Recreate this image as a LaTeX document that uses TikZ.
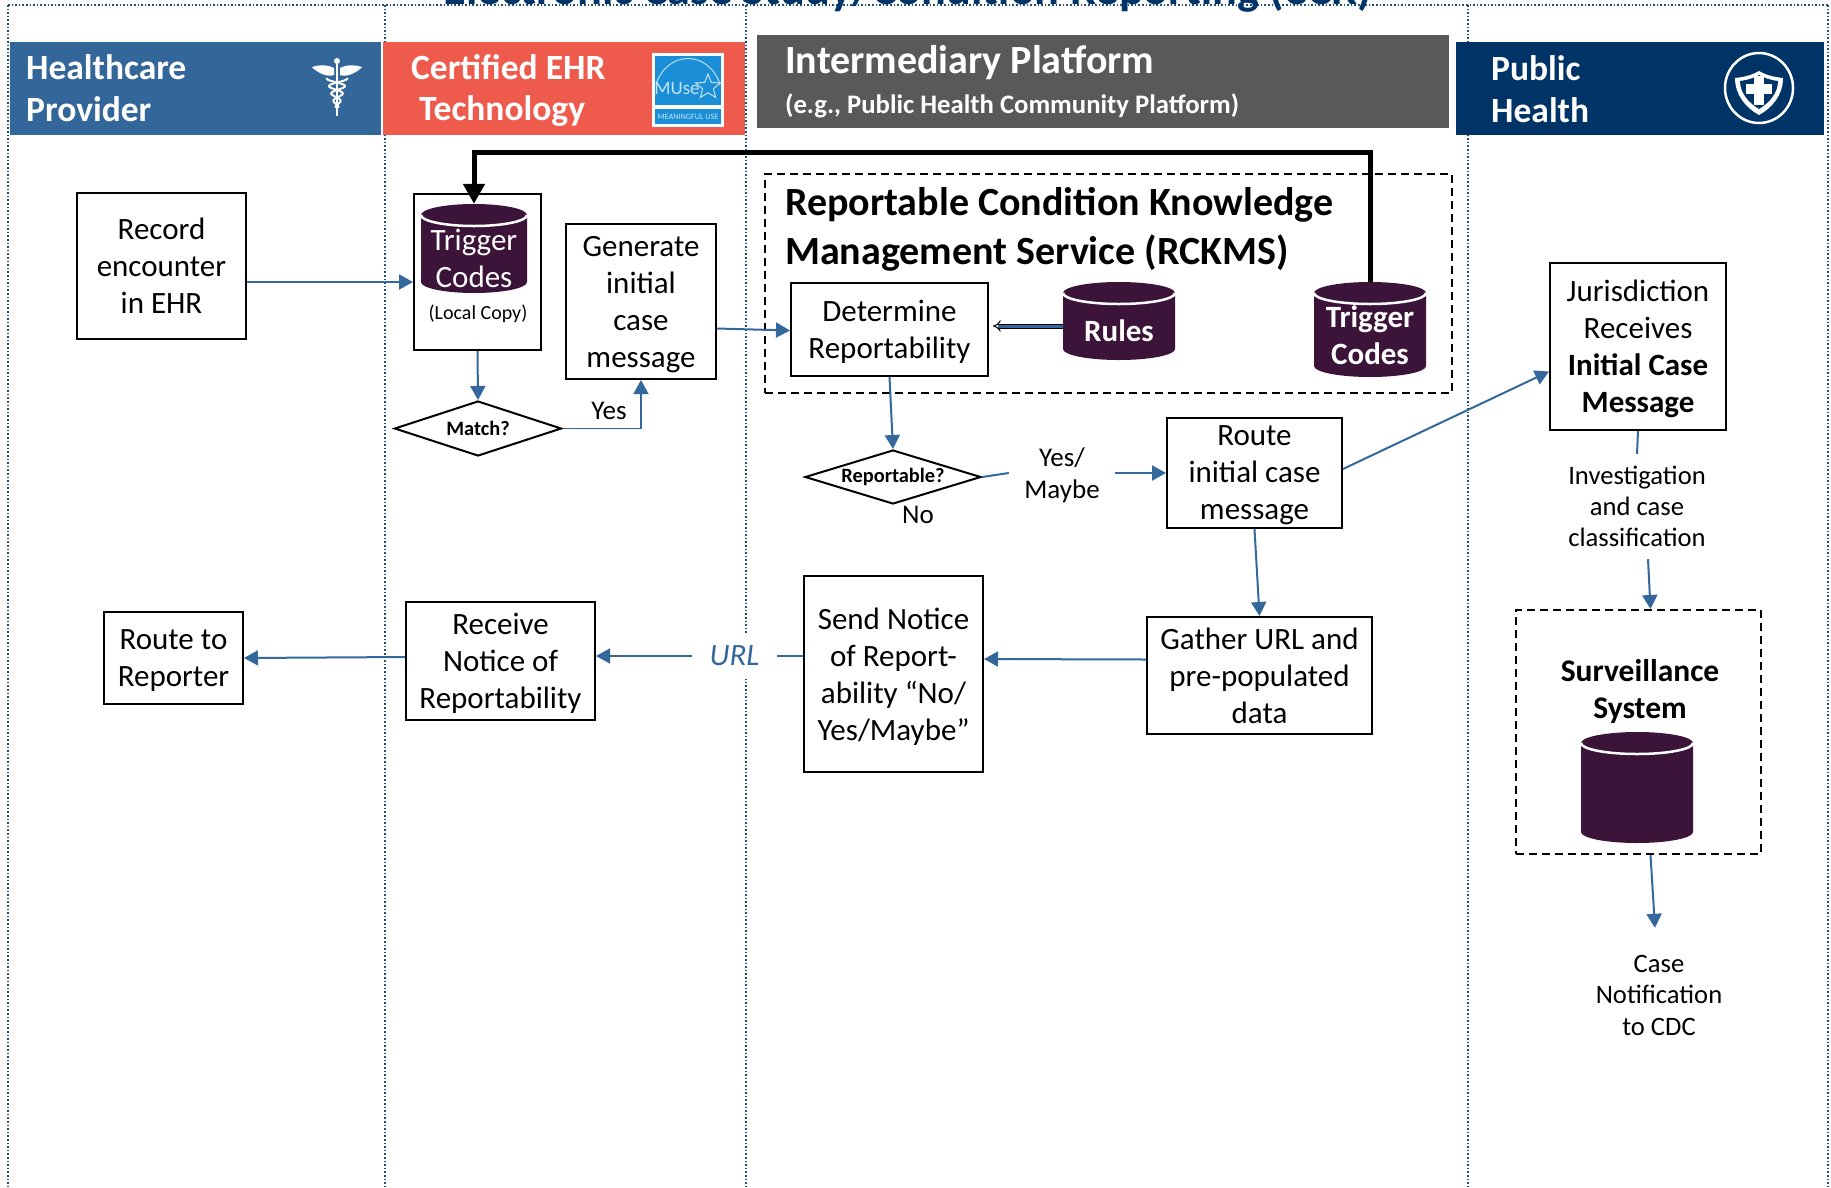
\documentclass[tikz,border=0pt]{standalone}
\usepackage{fontspec}
\setmainfont{Carlito}
\usetikzlibrary{positioning}
\usetikzlibrary{calc}
\usetikzlibrary{arrows.meta}
\usetikzlibrary{shapes.geometric}
\definecolor{linkblue}{HTML}{34679C}
\definecolor{lanenavy}{HTML}{1F4E79}
\definecolor{providerblue}{HTML}{336699}
\definecolor{ehrred}{HTML}{EE5B4D}
\definecolor{platformgrey}{HTML}{58595B}
\definecolor{healthnavy}{HTML}{003366}
\definecolor{dbpurple}{HTML}{3C1339}
\definecolor{musesky}{HTML}{1A8FD8}
\newcommand{\bodyfont}{\fontsize{31}{37}\selectfont}
\newcommand{\dbcan}[7]{
    \fill[dbpurple] ({#2-#4/2},{#3+11}) -- ({#2-#4/2},{#3+#5-11})
        arc[start angle=180,end angle=360,x radius={#4/2*1pt},y radius=11pt]
        -- ({#2+#4/2},{#3+11})
        arc[start angle=0,end angle=180,x radius={#4/2*1pt},y radius=11pt] -- cycle;
    \draw[white,line width=2.5pt] ({#2-#4/2},{#3+11})
        arc[start angle=180,end angle=360,x radius={#4/2*1pt},y radius=11pt];
    \node[minimum width=#4,minimum height=#5,inner sep=0] (#1) at (#2,{#3+#5/2}) {};
    \node[dbtext] (#1text) at (#2,{#3+#5/2+#6}) {#7};
}
\begin{document}
\begin{tikzpicture}[x=1pt,y=-1pt,
        lane/.style={draw=lanenavy,line width=1.6pt,dash pattern=on 1.6pt off 2pt},
        bandtext/.style={anchor=west,inner sep=0,text=white,font=\fontsize{35.5}{42}\selectfont\bfseries},
        stepbox/.style={draw,line width=2pt,fill=white,align=center,inner sep=0,font=\bodyfont,text depth=-2.6pt},
        dashbox/.style={draw,line width=2pt,dash pattern=on 8pt off 5pt,inner sep=0},
        decision/.style={diamond,aspect=3.2,draw,line width=2pt,fill=white,inner sep=0,font=\fontsize{20.4}{24}\selectfont\bfseries},
        dbtext/.style={align=center,inner sep=0,text=white,font=\bodyfont,text depth=2pt},
        note/.style={align=center,inner sep=0,font=\fontsize{26.6}{31}\selectfont,text depth=-2pt},
        flow/.style={draw=linkblue,line width=2pt,-{Triangle[length=14pt,width=15pt]}},
        plainflow/.style={draw=linkblue,line width=2pt},
        feed/.style={draw=black,line width=5pt,-{Triangle[length=20pt,width=21pt]}}]
    \useasboundingbox (0,0) rectangle (1831,1187);
    \foreach \lanex in {8,385,746,1468,1828}
        \draw[lane] (\lanex,5) -- (\lanex,1187);
    \draw[lane] (8,5) -- (1828,5);
    \node[anchor=base,inner sep=0,text=healthnavy,font=\fontsize{46.3}{50}\selectfont\bfseries] (pagetitle) at (908,4)
        {Electronic Case Study/Condition Reporting (eCR)};
    \fill[providerblue] (10,42) rectangle (381,135);
    \fill[ehrred] (383,42) rectangle (745,135);
    \fill[platformgrey] (757,35) rectangle (1449,128);
    \fill[healthnavy] (1456,42) rectangle (1824,135);
    \node[bandtext] (provider1) at (26,67) {Healthcare};
    \node[bandtext] (provider2) at (26,109) {Provider};
    \node[bandtext] (ehr1) at (411,67) {Certified EHR};
    \node[bandtext] (ehr2) at (419,111) {Technology};
    \node[bandtext,font=\fontsize{40}{46}\selectfont\bfseries] (platform1) at (785,63) {Intermediary Platform};
    \node[bandtext,font=\fontsize{26.7}{30}\selectfont\bfseries] (platform2) at (785,106) {(e.g., Public Health Community Platform)};
    \node[bandtext] (health1) at (1491,68) {Public};
    \node[bandtext] (health2) at (1491,110) {Health};
    % caduceus
    \draw[white,line width=2.5pt] (337,64) -- (337,116);
    \fill[white] (337,61) circle (3pt);
    \fill[white] (334,68) .. controls (326,64) and (318,65) .. (312,67) .. controls (316,72) and (328,78) .. (334,75) -- cycle;
    \fill[white] (340,68) .. controls (348,64) and (356,65) .. (362,67) .. controls (358,72) and (346,78) .. (340,75) -- cycle;
    \draw[white,line width=2pt] plot[domain=78:108,samples=40] ({337+9*(108-\x)/30*sin(\x*24)+1.5*sin(\x*24)},\x);
    \draw[white,line width=2pt] plot[domain=78:108,samples=40] ({337-9*(108-\x)/30*sin(\x*24)-1.5*sin(\x*24)},\x);
    % muse logo
    \fill[white] (652,53) rectangle (724,127);
    \fill[musesky] (655,56) rectangle (721,105);
    \fill[musesky] (655,109) rectangle (721,124);
    \draw[white!70!musesky,line width=1pt] (656,84) .. controls (668,50) and (708,50) .. (720,84);
    \node[inner sep=0,text=white!75!musesky,font=\fontsize{19}{20}\selectfont] (musetext) at (677,88) {MUse};
    \node[star,star points=5,star point ratio=2.3,draw=white!75!musesky,line width=1pt,minimum size=26pt,inner sep=0] (musestar) at (708,87) {};
    \node[inner sep=0,text=white!75!musesky,font=\fontsize{8.2}{9}\selectfont] (musemu) at (688,117) {MEANINGFUL USE};
    % public health seal
    \draw[white,line width=2.5pt] (1759,88) ellipse (34pt and 35pt);
    \fill[white] (1735,78) .. controls (1745,77) and (1752,75) .. (1759,71) .. controls (1766,75) and (1773,77) .. (1783,78) .. controls (1783,95) and (1772,108) .. (1759,115) .. controls (1746,108) and (1735,95) .. (1735,78) -- cycle;
    \fill[healthnavy] (1740,81) .. controls (1748,80) and (1754,78) .. (1759,75) .. controls (1764,78) and (1770,80) .. (1778,81) .. controls (1778,93) and (1769,103) .. (1759,109) .. controls (1749,103) and (1740,93) .. (1740,81) -- cycle;
    \fill[white] (1754,76) rectangle (1764,105);
    \fill[white] (1746,84) rectangle (1772,94);

    \node[dashbox,minimum width=687,minimum height=219] (rckms) at (1108.5,283.5) {};
    \node[dashbox,minimum width=245,minimum height=244] (surveillance) at (1638.5,732) {};
    \node[anchor=west,inner sep=0,align=left,font=\fontsize{40}{49}\selectfont\bfseries] (rckmstitle) at (785,229.5)
        {Reportable Condition Knowledge\\Management Service (RCKMS)};

    \node[stepbox,minimum width=169,minimum height=146] (record) at (161.5,266) {Record\\encounter\\in EHR};
    \node[stepbox,minimum width=127,minimum height=156] (localbox) at (477.5,272) {};
    \dbcan{localcodes}{474}{204}{106}{89}{10.5}{Trigger\\Codes}
    \node[inner sep=0,font=\fontsize{20}{24}\selectfont] (localcopy) at (478,314) {(Local Copy)};
    \node[stepbox,minimum width=150,minimum height=155] (generate) at (641,301.5) {Generate\\initial\\case\\message};
    \node[decision,minimum width=167,minimum height=55] (match) at (478,428.5) {Match?};
    \node[inner sep=0,font=\fontsize{27}{30}\selectfont] (yes) at (609,411) {Yes};

    \node[stepbox,minimum width=197,minimum height=93] (determine) at (889.5,329.5) {Determine\\Reportability};
    \dbcan{rules}{1119}{282}{112}{78}{10.5}{\bfseries Rules}
    \dbcan{centralcodes}{1370}{282}{112}{95}{6.5}{\bfseries Trigger\\\bfseries Codes}
    \node[decision,minimum width=176,minimum height=54] (reportable) at (893,477) {Reportable?};
    \node[inner sep=1pt,fill=white,font=\fontsize{27}{30}\selectfont] (no) at (918,515) {No};
    \node[note,minimum width=106,font=\fontsize{27}{32}\selectfont] (yesmaybe) at (1062,473) {Yes/\\Maybe};
    \node[stepbox,minimum width=175,minimum height=110] (routeinitial) at (1254.5,473) {Route\\initial case\\message};
    \node[stepbox,minimum width=225,minimum height=117] (gather) at (1259.5,675.5) {Gather URL and\\pre-populated\\data};
    \node[stepbox,minimum width=179,minimum height=196] (send) at (893.5,674) {Send Notice\\of Report-\\ability ``No/\\Yes/Maybe''};
    \node[stepbox,minimum width=189,minimum height=118] (receive) at (500.5,661) {Receive\\Notice of\\Reportability};
    \node[stepbox,minimum width=139,minimum height=92] (routereporter) at (173.5,658) {Route to\\Reporter};
    \node[fill=white,inner sep=0,minimum width=85,minimum height=45,text=linkblue,font=\fontsize{31}{34}\selectfont\itshape] (url) at (734.5,656) {URL};

    \node[stepbox,minimum width=176,minimum height=167] (jurisdiction) at (1638,346.5) {Jurisdiction\\Receives\\\textbf{Initial Case}\\\textbf{Message}};
    \node[note,minimum height=105] (investigation) at (1637,506.5) {Investigation\\and case\\classification};
    \node[inner sep=0,align=center,font=\fontsize{31.5}{37}\selectfont\bfseries] (survtitle) at (1640,691) {Surveillance\\System};
    \dbcan{survdb}{1637}{732}{112}{111}{0}{}
    \node[note,minimum height=134,font=\fontsize{26.6}{31.5}\selectfont] (casenote) at (1659,995) {Case\\Notification\\to CDC};

    \coordinate (feedbend) at (474,152);
    \draw[flow] ([yshift=-16pt]record.east) -- ([yshift=-10pt]localbox.west);
    \draw[flow] (localbox.south) -- (match.north);
    \draw[flow,line width=1.6pt] (match.east) -| (generate.south);
    \draw[flow] ([yshift=-27pt]generate.east) -- ([yshift=-1pt]determine.west);
    \draw[draw=black,line width=1pt,double=linkblue,double distance=3pt,-{Implies},shorten >=4pt] ([yshift=-5pt]rules.west) -- ([yshift=3.5pt]determine.east);
    \draw[flow] (determine.south) -- (reportable.north);
    \draw[plainflow] (reportable.east) -- (yesmaybe.west);
    \draw[flow] (yesmaybe.east) -- (routeinitial.west);
    \draw[flow] ([yshift=4pt]routeinitial.east) -- ([yshift=-25pt]jurisdiction.west);
    \draw[flow] (routeinitial.south) -- (gather.north);
    \draw[flow] ([yshift=16pt]gather.west) -- ([yshift=15pt]send.east);
    \draw[plainflow] ([yshift=18pt]send.west) -- (url.east);
    \draw[flow] (url.west) -- ([yshift=5pt]receive.east);
    \draw[flow] ([yshift=4pt]receive.west) -- (routereporter.east);
    \draw[plainflow] (jurisdiction.south) -- (investigation.north);
    \draw[flow] ([xshift=11pt]investigation.south) -- ([xshift=12pt]surveillance.north);
    \draw[flow] ([xshift=12pt]surveillance.south) -- ([xshift=-4pt]casenote.north);
    \draw[feed] (centralcodes.north) |- (feedbend) -- (localcodes.north);
\end{tikzpicture}
\end{document}
